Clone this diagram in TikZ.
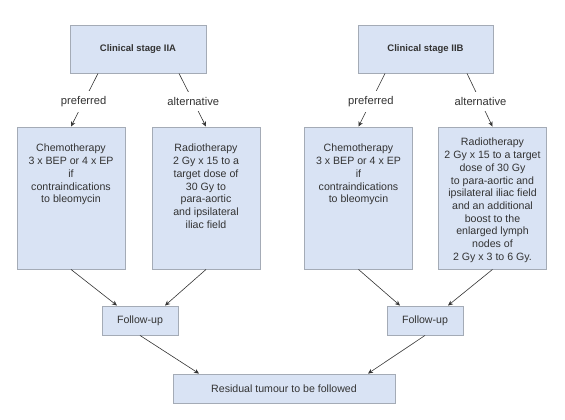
\documentclass[tikz,border=0pt]{standalone}
\usepackage{fontspec}
\setmainfont{Liberation Sans}
\usetikzlibrary{arrows.meta}
\definecolor{boxfill}{HTML}{D9E3F4}
\definecolor{boxline}{HTML}{A4ABB6}
\definecolor{inkgray}{HTML}{333333}
\newcommand{\treattext}[2][17.3pt]{\parbox[c][142pt][t]{106pt}{\centering\vspace*{#1}#2\par}}
\tikzset{
  box/.style={draw=boxline, fill=boxfill, line width=0.9pt, text=inkgray, align=center,
    font=\fontsize{10.6}{12.7}\selectfont, inner sep=4pt},
  stagebox/.style={box, minimum width=136pt, minimum height=48pt,
    font=\bfseries\fontsize{9.5}{11}\selectfont},
  treatbox/.style={box, minimum width=108pt, minimum height=142pt, inner sep=0pt},
  followbox/.style={box, minimum width=76pt, minimum height=29pt},
  choice/.style={fill=white, text=inkgray, inner xsep=2pt, inner ysep=5pt,
    font=\fontsize{11.2}{13}\selectfont, pos=0.53},
  arr/.style={draw=inkgray, line width=0.6pt, -{Stealth[length=5pt, width=4.5pt]}}
}
\begin{document}
\begin{tikzpicture}[x=1pt, y=-1pt]
\useasboundingbox (0,0) rectangle (565,420);
% Stages
\node[stagebox] (stageA) at (138,49) {Clinical stage IIA};
\node[stagebox, minimum width=135pt] (stageB) at (425.5,49) {Clinical stage IIB};

% Treatments for IIA
\node[treatbox] (chemoA) at (71,198) {\treattext{Chemotherapy\\3 x BEP or 4 x EP\\if\\contraindications\\to bleomycin}};
\node[treatbox] (radioA) at (206,198) {\treattext{Radiotherapy\\2 Gy x 15 to a\\target dose of\\30 Gy to\\para-aortic\\and ipsilateral\\iliac field}};

% Treatments for IIB
\node[treatbox] (chemoB) at (358.5,198) {\treattext{Chemotherapy\\3 x BEP or 4 x EP\\if\\contraindications\\to bleomycin}};
\node[treatbox] (radioB) at (492.5,198) {\treattext[11.3pt]{Radiotherapy\\2 Gy x 15 to a target\\dose of 30 Gy\\to para-aortic and\\ipsilateral iliac field\\and an additional\\boost to the\\enlarged lymph\\nodes of\\2 Gy x 3 to 6 Gy.}};

% Follow-up
\node[followbox] (followA) at (140,320.5) {Follow-up};
\node[followbox] (followB) at (425,320.5) {Follow-up};
\node[followbox, minimum width=222pt] (residual) at (284,388.5) {Residual tumour to be followed};

% Choices
\draw[arr] ([xshift=-40pt]stageA.south) -- node[choice] {preferred} (chemoA.north);
\draw[arr] ([xshift=41pt]stageA.south) -- node[choice] {alternative} (radioA.north);
\draw[arr] ([xshift=-40.5pt]stageB.south) -- node[choice] {preferred} (chemoB.north);
\draw[arr] ([xshift=41.5pt]stageB.south) -- node[choice] {alternative} (radioB.north);

% To follow-up
\draw[arr] (chemoA.south) -- ([xshift=-23pt]followA.north);
\draw[arr] (radioA.south) -- ([xshift=25pt]followA.north);
\draw[arr] (chemoB.south) -- ([xshift=-25pt]followB.north);
\draw[arr] (radioB.south) -- ([xshift=23pt]followB.north);
\draw[arr] (followA.south) -- ([xshift=-85pt]residual.north);
\draw[arr] (followB.south) -- ([xshift=84pt]residual.north);
\end{tikzpicture}
\end{document}
